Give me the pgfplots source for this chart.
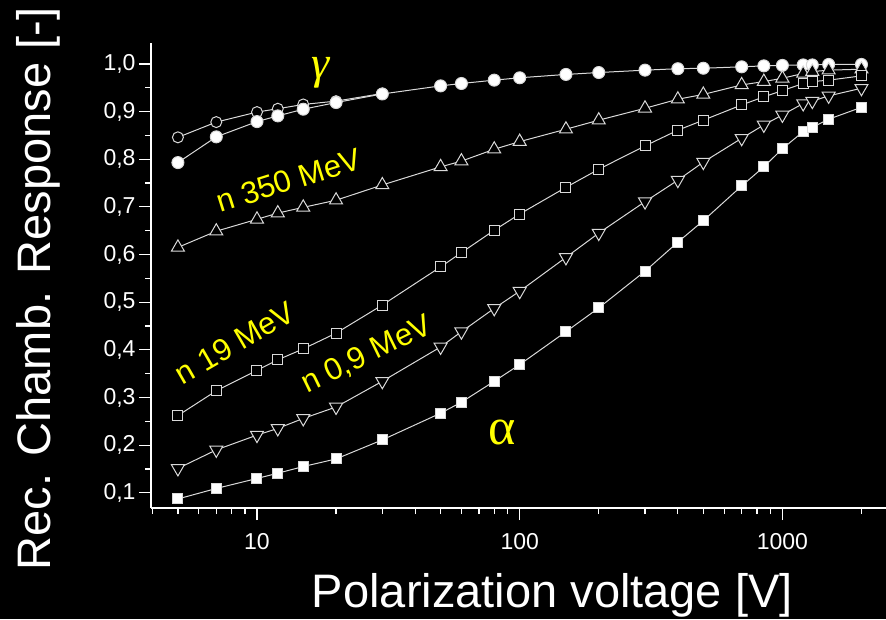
\documentclass[border=0pt]{standalone}
\usepackage{fontspec}
\setmainfont{Liberation Sans}
\newfontfamily\greekfont{Liberation Serif}
\usepackage{pgfplots}
\pgfplotsset{compat=1.18}

\definecolor{hl}{rgb}{1,1,0}
\definecolor{ln}{gray}{0.85}

\begin{document}
\begin{tikzpicture}
% black page, axis box is 735 x 465 at the origin
\fill[black] (-151pt,-111pt) rectangle (735pt,508pt);
\useasboundingbox (-151pt,-111pt) rectangle (735pt,508pt);
\begin{semilogxaxis}[
    at={(0pt,0pt)}, anchor=south west,
    scale only axis, width=735pt, height=465pt,
    xmin=3.95, xmax=2480, ymin=0.068, ymax=1.044,
    clip=false,
    axis x line*=bottom, axis y line*=left,
    axis line style={white, line width=1.2pt, -},
    tick align=outside,
    major tick length=12pt, minor tick length=6pt,
    every tick/.style={white, line width=1.2pt},
    every minor tick/.style={white, line width=1.2pt},
    xtick={10,100,1000}, xticklabels={10,100,1000},
    minor xtick={4,5,6,7,8,9,20,30,40,50,60,70,80,90,200,300,400,500,600,700,800,900,2000},
    ytick={0.1,0.2,0.3,0.4,0.5,0.6,0.7,0.8,0.9,1.0},
    yticklabels={{0,1},{0,2},{0,3},{0,4},{0,5},{0,6},{0,7},{0,8},{0,9},{1,0}},
    minor ytick={0.15,0.25,0.35,0.45,0.55,0.65,0.75,0.85,0.95},
    ticklabel style={white, font=\fontsize{23}{26}\selectfont},
    xticklabel style={yshift=-10pt},
    xlabel={Polarization voltage [V]},
    ylabel={Rec. Chamb. Response [-]},
    label style={white, font=\fontsize{47}{50}\selectfont},
    xlabel style={at={(axis description cs:0.546,-0.213)}, anchor=base},
    ylabel style={at={(axis description cs:-0.1374,0.471)}, anchor=base},
    every axis plot/.append style={ln, line width=1pt,
        mark options={solid, draw=white, line width=1.2pt}},
]

% gamma, open circles
\addplot[mark=*, mark size=5.5pt, mark options={fill=black}] coordinates {
    (5,0.846) (7,0.878) (10,0.899) (12,0.906) (15,0.915) (20,0.922) (30,0.938)
};

% gamma, filled circles
\addplot[mark=*, mark size=6pt, mark options={fill=white}] coordinates {
    (5,0.793) (7,0.847) (10,0.879) (12,0.891) (15,0.905) (20,0.919)
    (30,0.937) (50,0.954) (60,0.959) (80,0.966) (100,0.971) (150,0.978)
    (200,0.982) (300,0.987) (400,0.990) (500,0.991) (700,0.994) (850,0.996)
    (1000,0.997) (1200,0.998) (1300,0.998) (1500,0.999) (2000,0.999)
};

% n 350 MeV, open triangles
\addplot[mark=triangle*, mark size=7.5pt, mark options={fill=black}] coordinates {
    (5,0.615) (7,0.649) (10,0.674) (12,0.687) (15,0.699) (20,0.714)
    (30,0.746) (50,0.784) (60,0.796) (80,0.821) (100,0.837) (150,0.863)
    (200,0.882) (300,0.907) (400,0.926) (500,0.936) (700,0.956) (850,0.963)
    (1000,0.970) (1200,0.980) (1300,0.984) (1500,0.987) (2000,0.989)
};

% n 19 MeV, open squares
\addplot[mark=square*, mark size=5pt, mark options={fill=black}] coordinates {
    (5,0.262) (7,0.314) (10,0.357) (12,0.379) (15,0.402) (20,0.435)
    (30,0.494) (50,0.574) (60,0.604) (80,0.651) (100,0.685) (150,0.741)
    (200,0.779) (300,0.828) (400,0.861) (500,0.882) (700,0.914) (850,0.931)
    (1000,0.944) (1200,0.959) (1300,0.963) (1500,0.966) (2000,0.975)
};

% n 0,9 MeV, open down triangles
\addplot[mark=triangle*, mark size=7.5pt, mark options={fill=black, rotate=180}] coordinates {
    (5,0.151) (7,0.190) (10,0.221) (12,0.235) (15,0.256) (20,0.280)
    (30,0.334) (50,0.406) (60,0.438) (80,0.487) (100,0.523) (150,0.594)
    (200,0.645) (300,0.711) (400,0.756) (500,0.794) (700,0.844) (850,0.872)
    (1000,0.893) (1200,0.917) (1300,0.922) (1500,0.933) (2000,0.949)
};

% alpha, filled squares
\addplot[mark=square*, mark size=5pt, mark options={fill=white}] coordinates {
    (5,0.087) (7,0.109) (10,0.130) (12,0.141) (15,0.155) (20,0.171)
    (30,0.211) (50,0.267) (60,0.290) (80,0.334) (100,0.369) (150,0.438)
    (200,0.488) (300,0.565) (400,0.626) (500,0.671) (700,0.744) (850,0.784)
    (1000,0.822) (1200,0.858) (1300,0.867) (1500,0.884) (2000,0.909)
};

% labels
\node[hl, font=\greekfont\itshape\fontsize{46}{48}\selectfont] at (axis cs:17.4,0.982) {γ};
\node[hl, font=\greekfont\fontsize{52}{54}\selectfont] at (axis cs:86,0.226) {α};
\node[hl, font=\fontsize{31}{34}\selectfont, rotate=17.5] at (axis cs:13.2,0.756) {n 350 MeV};
\node[hl, font=\fontsize{31}{34}\selectfont, rotate=30] at (axis cs:8.24,0.415) {n 19 MeV};
\node[hl, font=\fontsize{31}{34}\selectfont, rotate=26] at (axis cs:26.2,0.389) {n 0,9 MeV};

\end{semilogxaxis}
\end{tikzpicture}
\end{document}
